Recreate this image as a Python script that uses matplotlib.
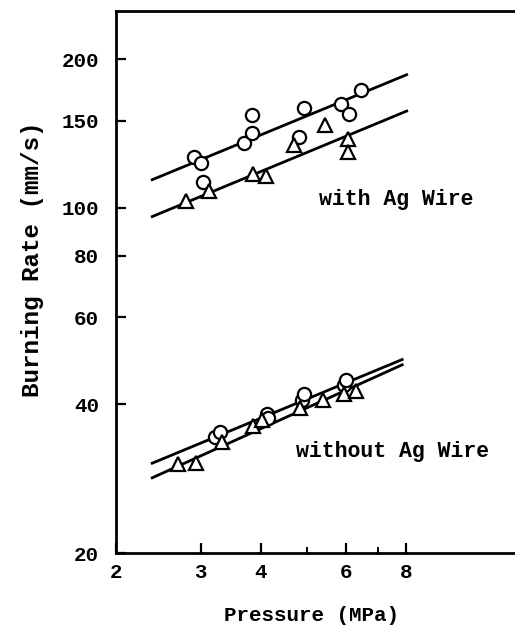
import matplotlib
matplotlib.use("Agg")
import matplotlib.pyplot as plt
from matplotlib.ticker import FixedLocator, NullFormatter

plt.rcParams['font.family'] = ['Liberation Mono', 'DejaVu Sans Mono']
plt.rcParams['font.weight'] = 'bold'

# with Ag wire
with_circ_p = [2.90, 3.00, 3.03, 3.70, 3.83, 3.83, 4.80, 4.93, 5.88, 6.10, 6.47]
with_circ_r = [127, 123, 113, 135, 142, 154, 139, 159, 162, 155, 173]
with_tri_p = [2.80, 3.13, 3.85, 4.10, 4.70, 5.43, 6.07, 6.07]
with_tri_r = [103, 108, 117, 116, 134, 147, 138, 130]
with_fit_p = [2.38, 8.04]
with_fit_circ = [114, 186]
with_fit_tri = [96, 157]

# without Ag wire
wo_circ_p = [3.21, 3.29, 4.12, 4.15, 4.87, 4.93, 5.97, 6.01]
wo_circ_r = [34.4, 35.2, 38.2, 37.5, 40.9, 42.0, 43.8, 44.9]
wo_tri_p = [2.69, 2.93, 3.32, 3.85, 4.03, 4.83, 5.40, 5.97, 6.30]
wo_tri_r = [30.3, 30.5, 33.6, 36.1, 37.1, 39.3, 40.9, 42.0, 42.5]
wo_fit_p = [2.38, 7.87]
wo_fit_circ = [30.4, 49.3]
wo_fit_tri = [28.4, 48.1]

xticks = [2, 3, 4, 6, 8]
xminor = [5, 7]
yticks = [20, 40, 60, 80, 100, 150, 200]

fig = plt.figure(figsize=(5.15, 6.27), dpi=100)
ax = fig.add_axes([0.225, 0.118, 0.775, 0.864])
ax.set_xscale('log')
ax.set_yscale('log')
ax.set_xlim(2, 13.5)
ax.set_ylim(20, 250)

lw = 2.0
ax.plot(with_fit_p, with_fit_circ, color='black', lw=lw)
ax.plot(with_fit_p, with_fit_tri, color='black', lw=lw)
ax.plot(wo_fit_p, wo_fit_circ, color='black', lw=lw)
ax.plot(wo_fit_p, wo_fit_tri, color='black', lw=lw)

mk = dict(linestyle='none', markerfacecolor='white', markeredgecolor='black',
          markeredgewidth=1.6)
ax.plot(with_circ_p, with_circ_r, marker='o', markersize=9.5, **mk)
ax.plot(with_tri_p, with_tri_r, marker='^', markersize=9.5, **mk)
ax.plot(wo_circ_p, wo_circ_r, marker='o', markersize=9.5, **mk)
ax.plot(wo_tri_p, wo_tri_r, marker='^', markersize=9.5, **mk)

ax.text(5.28, 104, 'with Ag Wire', fontsize=15.5, fontweight='bold', va='center')
ax.text(4.73, 32.1, 'without Ag Wire', fontsize=15.5, fontweight='bold', va='center')

ax.xaxis.set_major_locator(FixedLocator(xticks))
ax.xaxis.set_minor_locator(FixedLocator(xminor))
ax.xaxis.set_minor_formatter(NullFormatter())
ax.set_xticklabels([str(t) for t in xticks])
ax.yaxis.set_major_locator(FixedLocator(yticks))
ax.yaxis.set_minor_locator(FixedLocator([]))
ax.set_yticklabels([str(t) for t in yticks])

ax.tick_params(axis='both', which='major', direction='in', length=7, width=1.6,
               labelsize=15)
ax.tick_params(axis='x', which='minor', direction='in', length=4, width=1.4)
ax.tick_params(axis='x', pad=7)
ax.tick_params(axis='y', pad=12)
ax.spines['right'].set_visible(False)
for s in ['left', 'top', 'bottom']:
    ax.spines[s].set_linewidth(2)

ax.set_xlabel('Pressure (MPa)', fontsize=15, fontweight='bold')
ax.set_ylabel('Burning Rate (mm/s)', fontsize=17.5, fontweight='bold')
ax.xaxis.set_label_coords(0.489, -0.116)
ax.yaxis.set_label_coords(-0.208, 0.543)
ax.xaxis.label.set_va('center')
ax.yaxis.label.set_va('center')

fig.savefig('out.png', dpi=100)
